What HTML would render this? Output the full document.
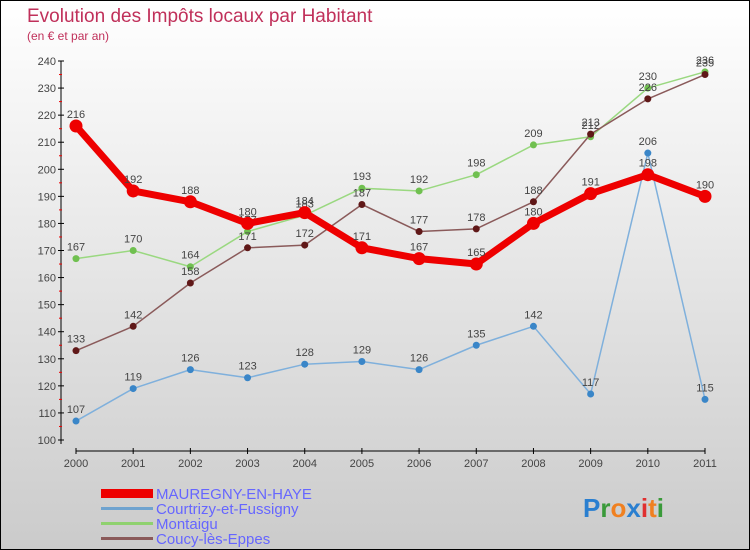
<!DOCTYPE html>
<html><head><meta charset="utf-8"><style>
body{margin:0}
#c{width:748px;height:548px;border:1px solid #000;background:linear-gradient(#fff,#cbcbcb);position:relative;font-family:"Liberation Sans",sans-serif;overflow:hidden}
svg text{font-family:"Liberation Sans",sans-serif}
</style></head><body>
<div id="c">
<svg id="s" width="748" height="548">
<text x="26" y="21" font-size="19" fill="#c0305a">Evolution des Impôts locaux par Habitant</text>
<text x="26" y="39" font-size="12" fill="#c0305a">(en € et par an)</text>
<g id="axes"></g><g id="series"></g>
<g>
<rect x="100" y="488" width="52" height="9" fill="#e00"/>
<text x="155" y="498" font-size="15" fill="#6666ff">MAUREGNY-EN-HAYE</text>
<rect x="100" y="506" width="52" height="3" fill="#6fa3cf"/>
<text x="155" y="513" font-size="15" fill="#6666ff">Courtrizy-et-Fussigny</text>
<rect x="100" y="521" width="52" height="3" fill="#8fd16f"/>
<text x="155" y="528" font-size="15" fill="#6666ff">Montaigu</text>
<rect x="100" y="536" width="52" height="3" fill="#8a5a5a"/>
<text x="155" y="543" font-size="15" fill="#6666ff">Coucy-lès-Eppes</text>
</g>
<text x="582" y="516" font-size="26" font-weight="bold"><tspan fill="#2a7fd0">P</tspan><tspan fill="#3a9a3a">r</tspan><tspan fill="#f08020">o</tspan><tspan fill="#2a7fd0">x</tspan><tspan fill="#e03030">i</tspan><tspan fill="#f08020">t</tspan><tspan fill="#3a9a3a">i</tspan></text>
</svg></div>
<script>
const years=["2000","2001","2002","2003","2004","2005","2006","2007","2008","2009","2010","2011"];
const yTicks=[100,110,120,130,140,150,160,170,180,190,200,210,220,230,240];
const mauregny=[216,192,188,180,184,171,167,165,180,191,198,190];
const courtrizy=[107,119,126,123,128,129,126,135,142,117,206,115];
const montaigu=[167,170,164,177,183,193,192,198,209,212,230,236];
const coucy=[133,142,158,171,172,187,177,178,188,213,226,235];
const NS="http://www.w3.org/2000/svg";
const X=i=>75+i*(704-75)/11;
const Y=v=>439-(v-100)*(439-60)/140;
function mk(t,a,p){const e=document.createElementNS(NS,t);for(const k in a)e.setAttribute(k,a[k]);p.appendChild(e);return e;}
const ax=document.getElementById('axes');
let e=mk('line',{x1:60,y1:Y(240),x2:60,y2:Y(100)+4,stroke:'#000'},ax);


e=mk('line',{x1:X(0),y1:450,x2:X(11),y2:450,stroke:'#000'},ax);


yTicks.forEach((v,i)=>{
 mk('line',{x1:57,y1:Y(v),x2:63,y2:Y(v),stroke:'#000'},ax);
 if(i<yTicks.length-1) mk('line',{x1:58,y1:Y(v+5),x2:61,y2:Y(v+5),stroke:'#e00'},ax);
 const t=mk('text',{x:55,y:Y(v)+4,'font-size':11,fill:'#444','text-anchor':'end'},ax);t.textContent=v;
 
 
});
years.forEach((y,i)=>{
 mk('line',{x1:X(i),y1:447,x2:X(i),y2:453,stroke:'#000'},ax);
 const t=mk('text',{x:X(i),y:466,'font-size':11,fill:'#444','text-anchor':'middle'},ax);t.textContent=y;
 
 
});
const sg=document.getElementById('series');
function draw(data,color,dot,w,r,name){
 const g=mk('g',{},sg);
 
 
 const p=mk('polyline',{points:data.map((v,i)=>X(i)+','+Y(v)).join(' '),fill:'none',stroke:color,'stroke-width':w,'stroke-linejoin':'round'},g);
 
 
 data.forEach((v,i)=>{
  const c=mk('circle',{cx:X(i),cy:Y(v),r:r,fill:dot},g);
  
  
  const t=mk('text',{x:X(i),y:Y(v)-8,'font-size':11,fill:'#444','text-anchor':'middle'},g);t.textContent=v;
  
  
 });
}
draw(courtrizy,'#7fb0dc','#3a86c8',1.5,3.5,'courtrizy');
draw(montaigu,'#9ad880','#70c050',1.5,3.5,'montaigu');
draw(coucy,'#8a5a5a','#601818',1.5,3.5,'coucy');
draw(mauregny,'#ee0000','#ee0000',7,6.5,'mauregny');
</script>
</body></html>
